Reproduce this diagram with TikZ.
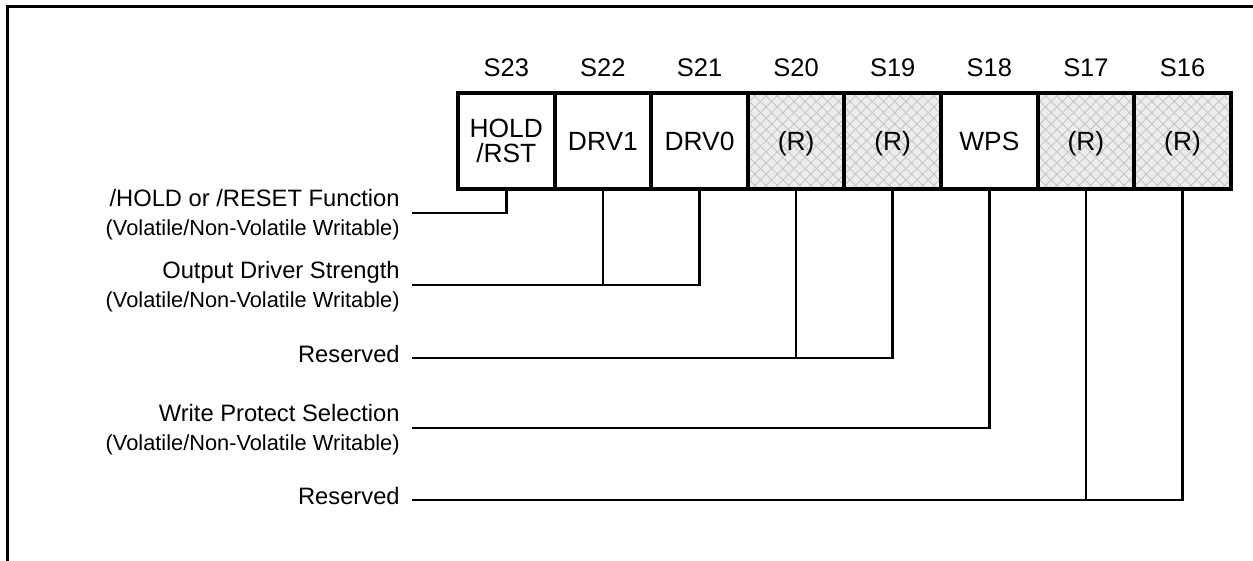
\documentclass[tikz,border=0pt]{standalone}
\usepackage{fontspec}
\setmainfont{Liberation Sans}
\usepackage{xcolor}
\usepackage{tikz}
\usetikzlibrary{positioning, calc, patterns.meta}
\definecolor{hatchfill}{RGB}{236, 236, 236}
\definecolor{hatchline}{RGB}{190, 190, 190}

\begin{document}
\begin{tikzpicture}[
    regbox/.style={rectangle, draw=black, line width=2.3pt, outer sep=0pt,
                   minimum width=1.932cm, minimum height=1.92cm, inner sep=0pt,
                   align=center, font=\fontsize{15}{14.5}\selectfont},
    regreserved/.style={regbox, text depth=0pt,
                   preaction={fill=hatchfill},
                   preaction={pattern={Lines[angle=45, distance=4.5pt, line width=0.4pt]}, pattern color=hatchline},
                   preaction={pattern={Lines[angle=-45, distance=4.5pt, line width=0.4pt]}, pattern color=hatchline}},
    reglabel/.style={font=\fontsize{14.5}{16}\selectfont, anchor=base, inner sep=0pt},
    fieldname/.style={font=\fontsize{13.5}{16}\selectfont, anchor=base east, inner sep=0pt},
    fieldnote/.style={font=\fontsize{12.4}{14}\selectfont, anchor=base east, inner sep=0pt},
    wire/.style={draw=black, line width=1.4pt}
]
\useasboundingbox (0,0) rectangle (25.06,11.2);
\clip (0,0) rectangle (25.06,11.2);

% Outer frame
\draw[line width=1.7pt] (0.15,-1) rectangle (26,11.07);

% Register cells
\node[regbox] (s23) at (10.126,8.38) {HOLD\\/RST};
\node[regbox, right=0pt of s23] (s22) {DRV1};
\node[regbox, right=0pt of s22] (s21) {DRV0};
\node[regreserved, right=0pt of s21] (s20) {(R)};
\node[regreserved, right=0pt of s20] (s19) {(R)};
\node[regbox, right=0pt of s19] (s18) {WPS};
\node[regreserved, right=0pt of s18] (s17) {(R)};
\node[regreserved, right=0pt of s17] (s16) {(R)};

% Bit numbers
\node[reglabel] (b23) at ($(s23.north)+(0,0.32)$) {S23};
\node[reglabel] (b22) at ($(s22.north)+(0,0.32)$) {S22};
\node[reglabel] (b21) at ($(s21.north)+(0,0.32)$) {S21};
\node[reglabel] (b20) at ($(s20.north)+(0,0.32)$) {S20};
\node[reglabel] (b19) at ($(s19.north)+(0,0.32)$) {S19};
\node[reglabel] (b18) at ($(s18.north)+(0,0.32)$) {S18};
\node[reglabel] (b17) at ($(s17.north)+(0,0.32)$) {S17};
\node[reglabel] (b16) at ($(s16.north)+(0,0.32)$) {S16};

% Field descriptions
\node[fieldname] (hold) at (8.0,7.06) {/HOLD or /RESET Function};
\node[fieldnote] (holdnote) at (8.0,6.49) {(Volatile/Non-Volatile Writable)};
\node[fieldname] (drv) at (8.0,5.62) {Output Driver Strength};
\node[fieldnote] (drvnote) at (8.0,5.05) {(Volatile/Non-Volatile Writable)};
\node[fieldname] (rsvA) at (8.0,3.94) {Reserved};
\node[fieldname] (wps) at (8.0,2.76) {Write Protect Selection};
\node[fieldnote] (wpsnote) at (8.0,2.19) {(Volatile/Non-Volatile Writable)};
\node[fieldname] (rsvB) at (8.0,1.1) {Reserved};

% Wire ends next to the descriptions
\coordinate (holdend) at (8.24,6.94);
\coordinate (drvend) at (8.24,5.5);
\coordinate (rsvAend) at (8.24,4.04);
\coordinate (wpsend) at (8.24,2.64);
\coordinate (rsvBend) at (8.24,1.2);

% Wires
\draw[wire] (s23.south) |- (holdend);
\draw[wire] (s21.south) |- (drvend);
\draw[wire] (s22.south) -- (s22.south |- drvend);
\draw[wire] (s19.south) |- (rsvAend);
\draw[wire] (s20.south) -- (s20.south |- rsvAend);
\draw[wire] (s18.south) |- (wpsend);
\draw[wire] (s16.south) |- (rsvBend);
\draw[wire] (s17.south) -- (s17.south |- rsvBend);

\end{tikzpicture}
\end{document}
